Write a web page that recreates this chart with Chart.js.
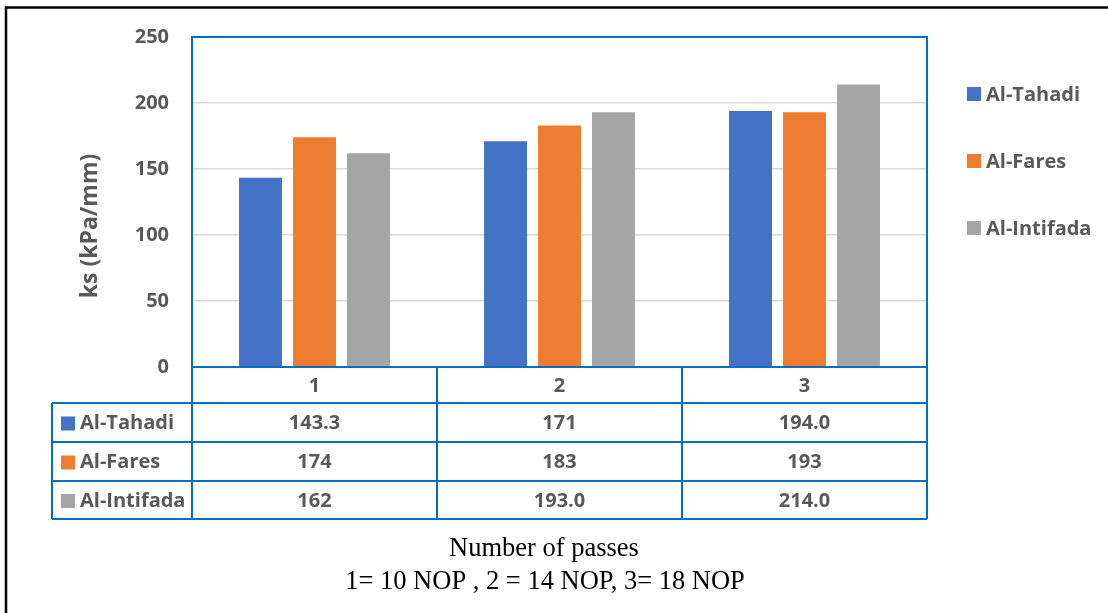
<!DOCTYPE html>
<html>
<head>
<meta charset="utf-8">
<script src="https://cdn.jsdelivr.net/npm/chart.js@4.4.1/dist/chart.umd.min.js"></script>
<style>
  html, body { margin: 0; padding: 0; background: #fff; }
  #wrap { position: relative; width: 1108px; height: 613px; }
  canvas { display: block; }
</style>
</head>
<body>
<div id="wrap"><canvas id="c" width="1108" height="613"></canvas></div>
<script>
// Number of passes (categories)
const categories = ['1', '2', '3'];

// Subgrade reaction ks (kPa/mm) per site
const seriesNames = ['Al-Tahadi', 'Al-Fares', 'Al-Intifada'];
const alTahadi   = [143.3, 171, 194.0];
const alFares    = [174, 183, 193];
const alIntifada = [162, 193.0, 214.0];

// Values as printed in the data table
const alTahadiText   = ['143.3', '171', '194.0'];
const alFaresText    = ['174', '183', '193'];
const alIntifadaText = ['162', '193.0', '214.0'];

const yTicks = [0, 50, 100, 150, 200, 250];

const colors = ['#4472C4', '#ED7D31', '#A5A5A5'];
const frameBlue = '#0070C0';
const textGray = '#595959';
const FONT = '"Open Sans", Lato, sans-serif';

const seriesValues = [alTahadi, alFares, alIntifada];
const seriesTexts = [alTahadiText, alFaresText, alIntifadaText];

// Frame around the plot, data table, legend, axis title and caption
const decorations = {
  id: 'decorations',
  afterDraw(chart) {
    const ctx = chart.ctx;
    const area = chart.chartArea;
    const x = chart.scales.x;
    const L = area.left, R = area.right, T = area.top, B = area.bottom;

    // row boundaries of the data table
    const rowY = [B, B + 36, B + 75, B + 114, B + 152];
    const tableLeft = 52;

    ctx.save();

    // outer frame (left and top edges)
    ctx.strokeStyle = '#000';
    ctx.lineWidth = 2.5;
    ctx.beginPath();
    ctx.moveTo(6, 613);
    ctx.lineTo(6, 7.5);
    ctx.lineTo(1108, 7.5);
    ctx.stroke();

    // plot border
    ctx.strokeStyle = frameBlue;
    ctx.lineWidth = 2;
    ctx.beginPath();
    ctx.moveTo(L, B);
    ctx.lineTo(L, T);
    ctx.lineTo(R, T);
    ctx.lineTo(R, B);
    ctx.stroke();

    // table horizontal lines
    ctx.beginPath();
    ctx.moveTo(L, rowY[0]); ctx.lineTo(R, rowY[0]);
    for (let i = 1; i < rowY.length; i++) {
      ctx.moveTo(tableLeft, rowY[i]); ctx.lineTo(R, rowY[i]);
    }
    // table vertical lines
    ctx.moveTo(tableLeft, rowY[1]); ctx.lineTo(tableLeft, rowY[4]);
    ctx.moveTo(L, rowY[0]); ctx.lineTo(L, rowY[4]);
    const step = (R - L) / categories.length;
    for (let i = 1; i <= categories.length; i++) {
      const vx = L + step * i;
      ctx.moveTo(vx, rowY[0]); ctx.lineTo(vx, rowY[4]);
    }
    ctx.stroke();

    // table text
    ctx.fillStyle = textGray;
    ctx.font = 'bold 20px ' + FONT;
    ctx.textAlign = 'center';
    ctx.textBaseline = 'middle';
    categories.forEach((c, i) => {
      ctx.fillText(c, x.getPixelForValue(i), (rowY[0] + rowY[1]) / 2 + 1);
    });
    seriesTexts.forEach((vals, s) => {
      const cy = (rowY[s + 1] + rowY[s + 2]) / 2 + 1;
      vals.forEach((v, i) => {
        ctx.fillText(v, x.getPixelForValue(i), cy);
      });
      // row header: colour key + name
      ctx.fillStyle = colors[s];
      ctx.fillRect(61, cy - 7, 14, 14);
      ctx.fillStyle = textGray;
      ctx.textAlign = 'left';
      ctx.fillText(seriesNames[s], 80, cy);
      ctx.textAlign = 'center';
    });

    // legend on the right
    const legendY = [94, 161, 228];
    seriesNames.forEach((name, s) => {
      ctx.fillStyle = colors[s];
      ctx.fillRect(967, legendY[s] - 7, 14, 14);
      ctx.fillStyle = textGray;
      ctx.textAlign = 'left';
      ctx.fillText(name, 986, legendY[s] + 1);
    });

    // y-axis title
    ctx.save();
    ctx.translate(90, 226);
    ctx.rotate(-Math.PI / 2);
    ctx.textAlign = 'center';
    ctx.fillStyle = textGray;
    ctx.font = 'bold 23px ' + FONT;
    ctx.fillText('ks (kPa/mm)', 0, 0);
    ctx.restore();

    // caption
    ctx.fillStyle = '#000';
    ctx.font = '26.5px "Liberation Serif", "Times New Roman", serif';
    ctx.textAlign = 'center';
    ctx.fillText('Number of passes', 544, 549);
    ctx.fillText('1= 10 NOP , 2 = 14 NOP, 3= 18 NOP', 545, 582);

    ctx.restore();
  }
};

new Chart(document.getElementById('c'), {
  type: 'bar',
  data: {
    labels: categories,
    datasets: seriesNames.map((name, s) => ({
      label: name,
      data: seriesValues[s],
      backgroundColor: colors[s],
      borderWidth: 0,
      categoryPercentage: 0.661,
      barPercentage: 0.796
    }))
  },
  options: {
    responsive: false,
    animation: false,
    devicePixelRatio: 1,
    layout: { padding: { left: 0, right: 181, top: 37, bottom: 246 } },
    plugins: {
      legend: { display: false },
      tooltip: { enabled: false }
    },
    scales: {
      x: {
        display: false
      },
      y: {
        min: 0,
        max: 250,
        afterFit(scale) { scale.width = 192; },
        afterBuildTicks(scale) { scale.ticks = yTicks.map(v => ({ value: v })); },
        border: { display: false },
        grid: {
          color: '#D9D9D9',
          lineWidth: 1.5,
          drawTicks: false
        },
        ticks: {
          padding: 23,
          color: textGray,
          font: { family: FONT, size: 20, weight: 'bold' }
        }
      }
    }
  },
  plugins: [decorations]
});
</script>
</body>
</html>
